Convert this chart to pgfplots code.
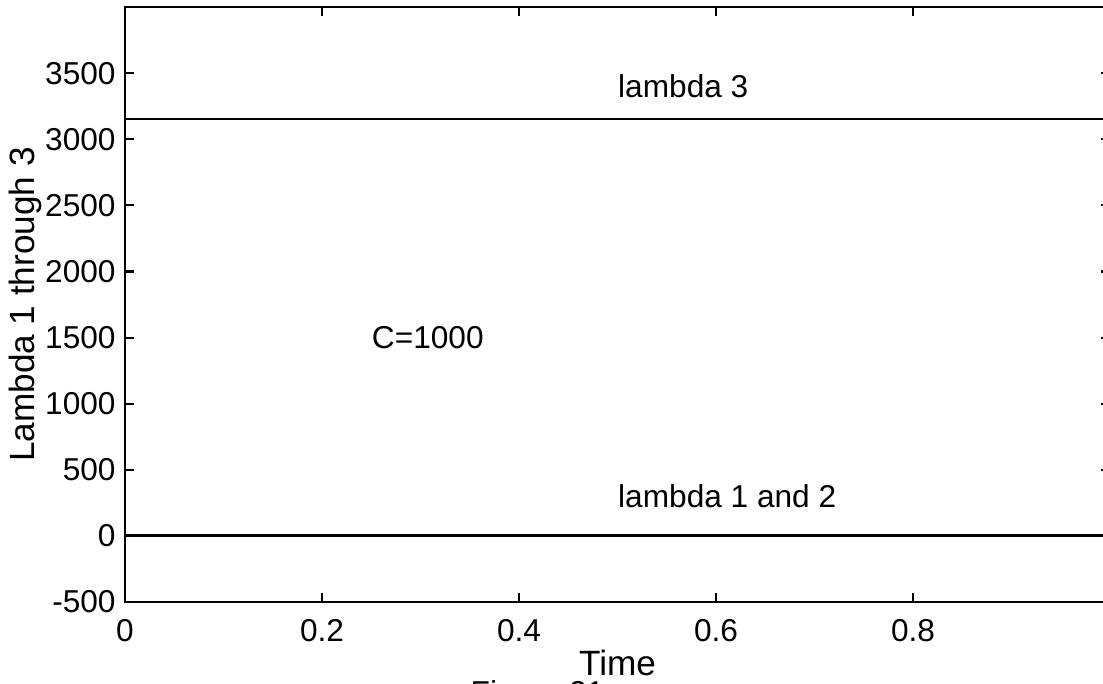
\documentclass[border=0pt]{standalone}
\usepackage{fontspec}
\setmainfont{Liberation Sans}
\usepackage{pgfplots}
\pgfplotsset{compat=1.18}
\newcommand\f{\fontsize{9}{10.8}\selectfont}

\begin{document}
\begin{tikzpicture}
  \begin{axis}[
      name=ax,
      scale only axis,
      width=98.5mm, height=59.5mm,
      xmin=0, xmax=1, ymin=-500, ymax=4000,
      xtick={0,0.2,0.4,0.6,0.8,1},
      xticklabels={0,0.2,0.4,0.6,0.8,1},
      ytick={-500,0,500,1000,1500,2000,2500,3000,3500},
      yticklabels={-500,0,500,1000,1500,2000,2500,3000,3500},
      tick align=inside,
      major tick length=0.9mm,
      every tick/.style={black, line width=0.6pt},
      axis line style={line width=0.6pt},
      ticklabel style={font=\f},
      xticklabel style={yshift=-0.5mm},
      yticklabel style={xshift=0.3mm},
      xlabel={Time},
      ylabel={Lambda 1 through 3},
      label style={font=\f},
      every axis x label/.style={at={(axis description cs:0.5,0)}, anchor=center, yshift=-6.1mm},
      every axis y label/.style={at={(axis description cs:-0.1015,0.5)}, anchor=center, rotate=90},
      clip=false,
    ]
    % lambda 3
    \addplot[black, line width=0.6pt, mark=none] coordinates {(0,3150) (1,3150)};
    % lambda 1 and lambda 2
    \addplot[black, line width=0.6pt, mark=none] coordinates {(0,5) (1,5)};
    \addplot[black, line width=0.6pt, mark=none] coordinates {(0,3) (1,3)};

    \node[anchor=west, inner sep=0, font=\f] at (axis cs:0.5,3400) {lambda 3};
    \node[anchor=west, inner sep=0, font=\f] at (axis cs:0.5,300) {lambda 1 and 2};
    \node[anchor=west, inner sep=0, font=\f] at (axis cs:0.25,1500) {C=1000};
  \end{axis}
  \node[anchor=north west, inner sep=0, font=\f] at ([xshift=34.5mm,yshift=-7.8mm]ax.south west) {Figure 21};
  \pgfresetboundingbox
  \path[use as bounding box] ([xshift=-12.5mm,yshift=-8.1mm]ax.south west) rectangle ([xshift=97.8mm,yshift=60.2mm]ax.south west);
\end{tikzpicture}
\end{document}
